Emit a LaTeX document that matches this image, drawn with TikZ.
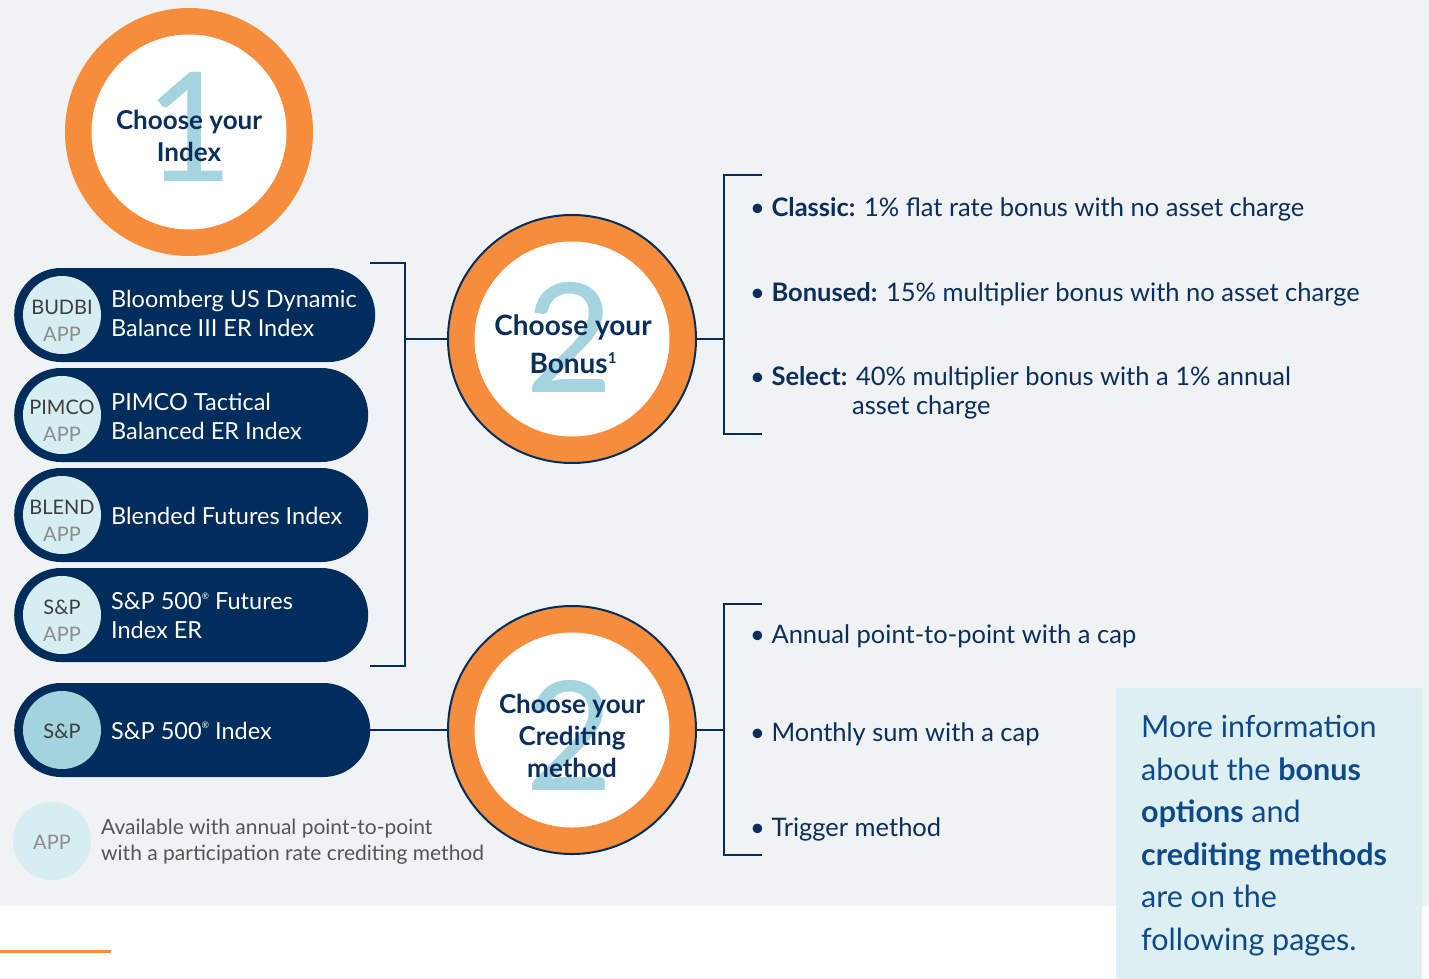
\documentclass[tikz,border=0pt]{standalone}
\usepackage{fontspec}
\setmainfont{Lato}
\usetikzlibrary{calc}

\definecolor{bggrey}{HTML}{F1F2F4}
\definecolor{navy}{HTML}{002D5B}
\definecolor{navytext}{HTML}{0A2F5C}
\definecolor{ringorange}{HTML}{F58D3D}
\definecolor{numblue}{HTML}{A3D4DF}
\definecolor{applight}{HTML}{D6EEF2}
\definecolor{spblue}{HTML}{A2D3DE}
\definecolor{infobg}{HTML}{DDEFF1}
\definecolor{infoblue}{HTML}{0E4A8A}
\definecolor{tagdark}{HTML}{3D3D3D}
\definecolor{taggrey}{HTML}{8C8C8C}
\definecolor{keygrey}{HTML}{555555}

\newcommand{\regd}{\raisebox{0.45em}{\fontsize{9}{9}\selectfont ®}}
\newcommand{\fnone}{\raisebox{0.35em}{\fontsize{15}{15}\selectfont 1}}

\tikzset{
  pill/.style={fill=navy, rounded corners=46.9pt, minimum height=94pt, anchor=west, inner sep=0pt},
  badge/.style={circle, fill=applight, minimum size=78pt, inner sep=0pt},
  ring/.style={circle, fill=ringorange, minimum size=248pt, inner sep=0pt},
  ringline/.style={draw=navy, line width=2pt},
  hole/.style={circle, fill=white, minimum size=195pt, inner sep=0pt},
  bignum/.style={text=numblue, font=\fontsize{152}{152}\selectfont, inner sep=0pt},
  steptxt/.style={text=navytext, font=\bfseries\fontsize{26}{32}\selectfont, align=center, inner sep=0pt},
  tagtxt/.style={text=tagdark, font=\fontsize{20}{20}\selectfont, inner sep=0pt},
  apptxt/.style={text=taggrey, font=\fontsize{20}{20}\selectfont, inner sep=0pt},
  pilltxt/.style={text=white, font=\fontsize{23.5}{29}\selectfont, align=left, anchor=west, inner sep=0pt},
  bullettxt/.style={text=navytext, font=\fontsize{25.5}{29}\selectfont, anchor=west, inner sep=0pt},
  infotxt/.style={text=infoblue, font=\fontsize{30.5}{42.6}\selectfont, align=left, anchor=north west, inner sep=0pt},
  keytxt/.style={text=keygrey, font=\fontsize{21}{26}\selectfont, align=left, anchor=west, inner sep=0pt},
  link/.style={draw=navy, line width=2pt}
}

\begin{document}
\begin{tikzpicture}[x=1pt,y=-1pt]
\useasboundingbox (0,0) rectangle (1429,979);
% Background
\fill[bggrey] (0,0) rectangle (1429,906);
\fill[white] (0,906) rectangle (1429,979);
\fill[infobg] (1116,688) rectangle (1422,979);
\draw[ringorange, line width=3pt] (0,951) -- (111,951);

% Step 1: index
\node[ring] (idx) at (189,132) {};
\node[hole] at (idx) {};
\node[bignum] at (190,127) {1};
\node[steptxt] at (189,136) {Choose your\\Index};

% Index pills
\foreach \nm/\y/\ty/\w/\tg/\txt in {budbi/315/313/361/BUDBI/{Bloomberg US Dynamic\\Balance III ER Index},
    pimco/415/416/354/PIMCO/{PIMCO Tactical\\Balanced ER Index},
    blend/515/516/354/BLEND/{Blended Futures Index},
    spfut/615/616/354/S\&P/{S\&P 500\regd{} Futures\\Index ER}}
{
    \node[pill, minimum width=\w pt] (\nm) at (14,\y) {};
    \node[badge] (\nm-b) at (62,\y) {};
    \node[tagtxt] at (62,\y-8) {\tg};
    \node[apptxt] at (62,\y+19) {APP};
    \node[pilltxt] at (111,\ty) {\txt};
}
\node[pill, minimum width=356pt] (sp) at (14,730) {};
\node[badge, fill=spblue] (sp-b) at (62,730) {};
\node[tagtxt] at (62,731) {S\&P};
\node[pilltxt] at (111,731) {S\&P 500\regd{} Index};

% Legend
\node[badge] (appkey) at (52,841) {};
\node[apptxt] at (52,842) {APP};
\node[keytxt] (keytext) at (101,842) {Available with annual point-to-point\\with a participation rate crediting method};

% Step 2: bonus
\node[ring, ringline] (bonus) at (572,339) {};
\node[hole] at (bonus) {};
\node[bignum] at (570,337) {2};
\node[steptxt, font=\bfseries\fontsize{28}{38}\selectfont] at (573,344) {Choose your\\Bonus\fnone};

\coordinate (bt) at (370,263);
\coordinate (bm) at (405,339);
\coordinate (bb) at (370,666);
\draw[link] (bt) -| (bm) |- (bb);
\draw[link] (bm) -- (bonus.west);

\coordinate (ct) at (762,175);
\coordinate (cm) at (724,339);
\coordinate (cb) at (762,434);
\draw[link] (ct) -| (cm) |- (cb);
\draw[link] (bonus.east) -- (cm);

\node[bullettxt] (classic) at (750,209) {• \textbf{Classic:} 1\% flat rate bonus with no asset charge};
\node[bullettxt] (bonused) at (750,294) {• \textbf{Bonused:} 15\% multiplier bonus with no asset charge};
\node[bullettxt] (select) at (750,378) {• \textbf{Select:} 40\% multiplier bonus with a 1\% annual};
\node[bullettxt] (select2) at (852,407) {asset charge};

% Step 2: crediting
\node[ring, ringline] (cred) at (572,730) {};
\node[hole] at (cred) {};
\node[bignum] at (570,735) {2};
\node[steptxt] at (572,736) {Choose your\\Crediting\\method};
\draw[link] (sp.east) -- (cred.west);

\coordinate (dt) at (762,604);
\coordinate (dm) at (724,730);
\coordinate (db) at (762,855);
\draw[link] (dt) -| (dm) |- (db);
\draw[link] (cred.east) -- (dm);

\node[bullettxt] (annual) at (750,636) {• Annual point-to-point with a cap};
\node[bullettxt] (monthly) at (750,734) {• Monthly sum with a cap};
\node[bullettxt] (trigger) at (750,829) {• Trigger method};

% More information box
\node[infotxt] (info) at (1141,715) {More information\\about the \textbf{bonus}\\\textbf{options} and\\\textbf{crediting methods}\\are on the\\following pages.};
\end{tikzpicture}
\end{document}
